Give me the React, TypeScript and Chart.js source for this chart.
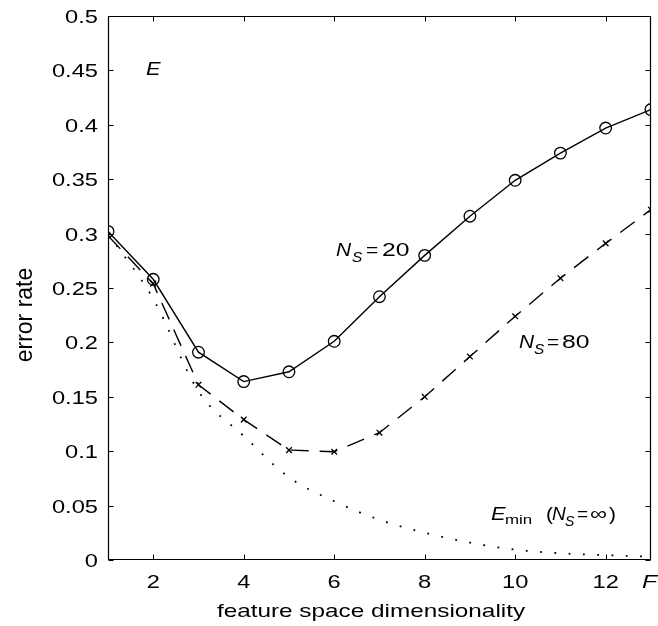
import React, { useEffect, useRef } from 'react';
import { Chart, registerables } from 'chart.js';

Chart.register(...registerables);

// ---------- data ----------
const dims = [1, 2, 3, 4, 5, 6, 7, 8, 9, 10, 11, 12, 13];
const errorNs20 = [0.302, 0.258, 0.191, 0.164, 0.173, 0.201, 0.242, 0.28, 0.316, 0.349, 0.374, 0.397, 0.414];
const errorNs80 = [0.298, 0.254, 0.161, 0.129, 0.101, 0.0995, 0.117, 0.15, 0.187, 0.224, 0.259, 0.291, 0.322];
const errorMin = [0.3, 0.24, 0.155, 0.114, 0.076, 0.054, 0.037, 0.025, 0.016, 0.0095, 0.0062, 0.0045, 0.003];

const xTickValues = [2, 4, 6, 8, 10, 12];
const xTickLabels = ['2', '4', '6', '8', '10', '12'];
const xEndValue = 13;
const xEndLabel = 'F';
const yTickValues = [0, 0.05, 0.1, 0.15, 0.2, 0.25, 0.3, 0.35, 0.4, 0.45, 0.5];
const yTickLabels = ['0', '0.05', '0.1', '0.15', '0.2', '0.25', '0.3', '0.35', '0.4', '0.45', '0.5'];

const xTitle = 'feature space dimensionality';
const yTitle = 'error rate';

const FONT = '"Liberation Sans", Arial, Helvetica, sans-serif';
const SX = 1.3;

type TOpt = { italic?: boolean; align?: 'left' | 'center' | 'right'; sx?: number };

function drawText(ctx: CanvasRenderingContext2D, s: string, x: number, y: number, size: number, o: TOpt = {}) {
  const sx = o.sx ?? SX;
  ctx.save();
  ctx.font = `${o.italic ? 'italic ' : ''}${size}px ${FONT}`;
  ctx.textBaseline = 'alphabetic';
  ctx.textAlign = 'left';
  const w = ctx.measureText(s).width * sx;
  const dx = o.align === 'center' ? -w / 2 : o.align === 'right' ? -w : 0;
  ctx.translate(x + dx, y);
  ctx.scale(sx, 1);
  ctx.fillStyle = '#000';
  ctx.fillText(s, 0, 0);
  ctx.restore();
  return w;
}

const decorPlugin = {
  id: 'decor',
  afterDraw(chart: any) {
    const ctx: CanvasRenderingContext2D = chart.ctx;
    const { left, right, top, bottom } = chart.chartArea;
    const xs = chart.scales.x;
    const ys = chart.scales.y;
    ctx.save();
    ctx.strokeStyle = '#000';
    ctx.lineWidth = 1.2;
    const L = Math.round(left) + 0.5;
    const R = Math.round(right) - 0.5;
    const T = Math.round(top) + 0.5;
    const B = Math.round(bottom) - 0.5;
    ctx.beginPath();
    ctx.rect(L, T, R - L, B - T);
    ctx.stroke();
    const tl = 5;
    ctx.lineWidth = 1;
    ctx.beginPath();
    xTickValues.forEach((v) => {
      const px = Math.round(xs.getPixelForValue(v)) + 0.5;
      ctx.moveTo(px, B);
      ctx.lineTo(px, B - tl);
      ctx.moveTo(px, T);
      ctx.lineTo(px, T + tl);
    });
    yTickValues.forEach((v) => {
      const py = Math.round(ys.getPixelForValue(v)) + 0.5;
      ctx.moveTo(L, py);
      ctx.lineTo(L + tl, py);
      ctx.moveTo(R, py);
      ctx.lineTo(R - tl, py);
    });
    ctx.stroke();
    ctx.restore();

    // tick labels
    yTickValues.forEach((v, i) => {
      const py = ys.getPixelForValue(v);
      drawText(ctx, yTickLabels[i], left - 10, py + 7, 18.5, { align: 'right', sx: 1.28 });
    });
    xTickValues.forEach((v, i) => {
      const px = xs.getPixelForValue(v);
      drawText(ctx, xTickLabels[i], px, bottom + 28, 18.5, { align: 'center', sx: 1.28 });
    });
    drawText(ctx, xEndLabel, xs.getPixelForValue(xEndValue) - 9, bottom + 28, 19, { italic: true });

    // axis titles
    drawText(ctx, xTitle, 371, 617, 19, { align: 'center', sx: 1.28 });
    ctx.save();
    ctx.translate(32, 315);
    ctx.rotate(-Math.PI / 2);
    ctx.font = `23px ${FONT}`;
    ctx.textAlign = 'center';
    ctx.textBaseline = 'alphabetic';
    ctx.fillStyle = '#000';
    ctx.fillText(yTitle, 0, 0);
    ctx.restore();

    // annotations
    drawText(ctx, 'E', 146, 75, 19, { italic: true, sx: 1.15 });

    drawText(ctx, 'N', 336, 256, 19, { italic: true, sx: 1.1 });
    drawText(ctx, 'S', 352, 262, 14, { italic: true, sx: 1.1 });
    drawText(ctx, '=', 366, 256, 19, { sx: 1.1 });
    drawText(ctx, '20', 382, 256, 19, { sx: 1.3 });

    drawText(ctx, 'N', 519, 348, 19, { italic: true, sx: 1.1 });
    drawText(ctx, 'S', 534, 354, 14, { italic: true, sx: 1.1 });
    drawText(ctx, '=', 547, 348, 19, { sx: 1.1 });
    drawText(ctx, '80', 562, 348, 19, { sx: 1.3 });

    drawText(ctx, 'E', 491, 520, 19, { italic: true, sx: 1.15 });
    drawText(ctx, 'min', 505, 524, 13, { sx: 1.3 });
    drawText(ctx, '(', 546, 520, 19, { sx: 1.1 });
    drawText(ctx, 'N', 552, 520, 19, { italic: true, sx: 1.0 });
    drawText(ctx, 'S', 565, 526, 14, { italic: true, sx: 1.0 });
    drawText(ctx, '=', 577, 520, 19, { sx: 1.0 });
    drawText(ctx, '\u221E', 590, 520, 19, { sx: 1.25 });
    drawText(ctx, ')', 609, 520, 19, { sx: 1.1 });
  },
};

export default function App() {
  const ref = useRef<HTMLCanvasElement | null>(null);
  useEffect(() => {
    document.body.style.margin = '0';
    const canvas = ref.current;
    if (!canvas) return;
    const pts = (ys: number[]) => dims.map((x, i) => ({ x, y: ys[i] }));
    const chart = new Chart(canvas, {
      type: 'line',
      data: {
        datasets: [
          {
            label: 'Emin',
            data: pts(errorMin),
            borderColor: '#000',
            borderWidth: 1.8,
            borderDash: [1.8, 12.5],
            pointRadius: 0,
            cubicInterpolationMode: 'monotone',
            fill: false,
          },
          {
            label: 'NS=80',
            data: pts(errorNs80),
            borderColor: '#000',
            borderWidth: 1.4,
            borderDash: [18, 11],
            pointStyle: 'crossRot',
            pointRadius: 4,
            pointBorderWidth: 1.3,
            pointBorderColor: '#000',
            pointBackgroundColor: 'rgba(0,0,0,0)',
            tension: 0,
            fill: false,
          },
          {
            label: 'NS=20',
            data: pts(errorNs20),
            borderColor: '#000',
            borderWidth: 1.4,
            pointStyle: 'circle',
            pointRadius: 5.8,
            pointBorderWidth: 1.3,
            pointBorderColor: '#000',
            pointBackgroundColor: 'rgba(0,0,0,0)',
            tension: 0,
            fill: false,
          },
        ],
      },
      options: {
        animation: false,
        responsive: false,
        devicePixelRatio: 1,
        events: [],
        layout: { padding: { left: 0, right: 3, top: 16, bottom: 0 } },
        plugins: { legend: { display: false }, tooltip: { enabled: false }, title: { display: false } },
        scales: {
          x: {
            type: 'linear',
            min: 1,
            max: 13,
            grid: { display: false, drawTicks: false },
            border: { display: false },
            ticks: { display: false },
            afterFit: (s: any) => {
              s.height = 66;
              s.paddingLeft = 0;
              s.paddingRight = 0;
            },
          },
          y: {
            type: 'linear',
            min: 0,
            max: 0.5,
            grid: { display: false, drawTicks: false },
            border: { display: false },
            ticks: { display: false, stepSize: 0.05 },
            afterFit: (s: any) => {
              s.width = 108;
              s.paddingTop = 0;
              s.paddingBottom = 0;
            },
          },
        },
      },
      plugins: [decorPlugin],
    } as any);
    return () => chart.destroy();
  }, []);
  return (
    <div style={{ width: 658, height: 626, background: '#fff' }}>
      <canvas ref={ref} width={658} height={626} style={{ display: 'block', width: 658, height: 626 }} />
    </div>
  );
}
